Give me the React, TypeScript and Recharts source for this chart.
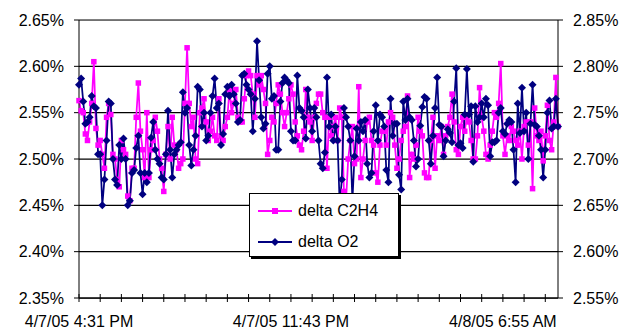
import { LineChart, Line, XAxis, YAxis, CartesianGrid, ReferenceLine, Legend } from 'recharts'

// delta C2H4, left axis (%)
const c2h4 = [
  2.563, 2.552, 2.550, 2.527, 2.520, 2.540, 2.560, 2.605, 2.533, 2.515,
  2.520, 2.505, 2.490, 2.545, 2.560, 2.548, 2.505, 2.500, 2.478, 2.470,
  2.520, 2.510, 2.505, 2.460, 2.455, 2.490, 2.490, 2.545, 2.582, 2.530,
  2.510, 2.480, 2.550, 2.480, 2.510, 2.520, 2.545, 2.530, 2.500, 2.490,
  2.465, 2.505, 2.535, 2.500, 2.545, 2.515, 2.510, 2.490, 2.495, 2.500,
  2.560, 2.620, 2.560, 2.535, 2.545, 2.500, 2.495, 2.550, 2.555, 2.565,
  2.540, 2.520, 2.530, 2.545, 2.525, 2.520, 2.565, 2.525, 2.520, 2.535,
  2.545, 2.575, 2.550, 2.560, 2.575, 2.545, 2.540, 2.540, 2.565, 2.590,
  2.595, 2.590, 2.570, 2.545, 2.590, 2.580, 2.590, 2.575, 2.560, 2.505,
  2.520, 2.545, 2.540, 2.560, 2.580, 2.570, 2.550, 2.535, 2.550, 2.565,
  2.580, 2.570, 2.540, 2.525, 2.515, 2.510, 2.530, 2.575, 2.545, 2.540,
  2.520, 2.545, 2.560, 2.570, 2.570, 2.550, 2.545, 2.490, 2.545, 2.525,
  2.535, 2.545, 2.520, 2.555, 2.545, 2.465, 2.455, 2.500, 2.520, 2.535,
  2.495, 2.500, 2.578, 2.480, 2.500, 2.520, 2.540, 2.545, 2.520, 2.515,
  2.485, 2.475, 2.515, 2.530, 2.530, 2.515, 2.540, 2.550, 2.545, 2.515,
  2.490, 2.500, 2.520, 2.530, 2.535, 2.568, 2.480, 2.505, 2.500, 2.515,
  2.545, 2.530, 2.525, 2.485, 2.480, 2.480, 2.520, 2.545, 2.490, 2.525,
  2.520, 2.535, 2.505, 2.525, 2.535, 2.545, 2.570, 2.540, 2.510, 2.505,
  2.535, 2.545, 2.530, 2.545, 2.540, 2.520, 2.500, 2.500, 2.525, 2.577,
  2.545, 2.530, 2.505, 2.500, 2.515, 2.530, 2.550, 2.545, 2.560, 2.603,
  2.525, 2.505, 2.525, 2.520, 2.535, 2.530, 2.520, 2.515, 2.530, 2.500,
  2.535, 2.540, 2.515, 2.540, 2.468, 2.555, 2.525, 2.520, 2.530, 2.498,
  2.525, 2.558, 2.520, 2.510, 2.540, 2.588, 2.535,
]

// delta O2, right axis (%)
const o2 = [
  2.780, 2.787, 2.762, 2.738, 2.740, 2.745, 2.768, 2.757, 2.755, 2.705,
  2.705, 2.650, 2.678, 2.720, 2.762, 2.760, 2.700, 2.678, 2.672, 2.715,
  2.700, 2.722, 2.700, 2.650, 2.655, 2.685, 2.688, 2.712, 2.725, 2.685,
  2.662, 2.685, 2.675, 2.685, 2.723, 2.740, 2.710, 2.700, 2.695, 2.680,
  2.678, 2.705, 2.752, 2.710, 2.680, 2.705, 2.710, 2.715, 2.718, 2.772,
  2.750, 2.755, 2.715, 2.693, 2.710, 2.725, 2.778, 2.775, 2.735, 2.750,
  2.720, 2.725, 2.750, 2.768, 2.787, 2.755, 2.760, 2.715, 2.727, 2.770,
  2.778, 2.768, 2.780, 2.770, 2.760, 2.740, 2.742, 2.790, 2.792, 2.780,
  2.775, 2.770, 2.730, 2.765, 2.827, 2.785, 2.745, 2.733, 2.738, 2.792,
  2.800, 2.765, 2.768, 2.710, 2.710, 2.762, 2.782, 2.788, 2.785, 2.782,
  2.730, 2.720, 2.720, 2.790, 2.755, 2.752, 2.745, 2.722, 2.775, 2.755,
  2.730, 2.755, 2.745, 2.720, 2.695, 2.690, 2.707, 2.788, 2.735, 2.748,
  2.720, 2.735, 2.720, 2.650, 2.678, 2.755, 2.745, 2.735, 2.720, 2.655,
  2.703, 2.733, 2.720, 2.740, 2.730, 2.742, 2.695, 2.680, 2.685, 2.730,
  2.758, 2.720, 2.748, 2.745, 2.735, 2.688, 2.675, 2.765, 2.725, 2.738,
  2.738, 2.683, 2.667, 2.762, 2.742, 2.765, 2.745, 2.742, 2.720, 2.692,
  2.700, 2.736, 2.756, 2.767, 2.765, 2.720, 2.695, 2.725, 2.755, 2.788,
  2.737, 2.735, 2.703, 2.720, 2.732, 2.728, 2.718, 2.762, 2.798, 2.715,
  2.717, 2.712, 2.748, 2.797, 2.748, 2.757, 2.697, 2.757, 2.740, 2.745,
  2.760, 2.745, 2.765, 2.758, 2.703, 2.718, 2.718, 2.720, 2.750, 2.755,
  2.730, 2.727, 2.738, 2.742, 2.740, 2.710, 2.675, 2.760, 2.728, 2.777,
  2.730, 2.750, 2.700, 2.738, 2.780, 2.737, 2.735, 2.725, 2.710, 2.680,
  2.710, 2.750, 2.763, 2.733, 2.735, 2.765, 2.735,
]

const xLabels = ['4/7/05 4:31 PM', '4/7/05 11:43 PM', '4/8/05 6:55 AM']
const xLabelIdx = [0, 100, 200]
const leftTicks = [2.35, 2.4, 2.45, 2.5, 2.55, 2.6, 2.65]
const rightTicks = [2.55, 2.6, 2.65, 2.7, 2.75, 2.8, 2.85]

const data = c2h4.map((v, i) => ({ i, c2h4: v, o2: o2[i] }))
const xTicks = Array.from({ length: Math.floor((data.length - 1) / 10) + 1 }, (_, k) => k * 10)

const MAGENTA = '#FF00FF'
const NAVY = '#000080'
const FONT = '"Liberation Sans", Arial, sans-serif'

const pct = (v: number) => `${v.toFixed(2)}%`

function XTick(props: any) {
  const { x, y, payload } = props
  const li = xLabelIdx.indexOf(payload.value)
  return (
    <g>
      <line x1={x} x2={x} y1={y - 4} y2={y + 4} stroke="#000" />
      {li >= 0 && (
        <text x={x} y={y + 29} textAnchor="middle" fontSize={16} fill="#000" fontFamily={FONT}>
          {xLabels[li]}
        </text>
      )}
    </g>
  )
}

const squareDot = (p: any) => (
  <rect key={`s${p.index}`} x={p.cx - 2.75} y={p.cy - 2.75} width={5.5} height={5.5} fill={MAGENTA} />
)
const diamondDot = (p: any) => (
  <polygon
    key={`d${p.index}`}
    points={`${p.cx},${p.cy - 4} ${p.cx + 4},${p.cy} ${p.cx},${p.cy + 4} ${p.cx - 4},${p.cy}`}
    fill={NAVY}
  />
)

function LegendBox() {
  const rows = [
    { name: 'delta C2H4', color: MAGENTA, square: true },
    { name: 'delta O2', color: NAVY, square: false },
  ]
  return (
    <div style={{ width: 148, height: 62, border: '1px solid #000', boxShadow: '2px 2px 0 #000', background: '#fff', position: 'relative' }}>
      {rows.map((r, k) => (
        <div key={r.name} style={{ position: 'absolute', left: 0, top: k === 0 ? 6 : 37, height: 22, display: 'flex', alignItems: 'center' }}>
          <svg width={48} height={22}>
            <line x1={8} x2={42} y1={11} y2={11} stroke={r.color} strokeWidth={2} />
            {r.square ? (
              <rect x={22} y={8} width={6} height={6} fill={r.color} />
            ) : (
              <polygon points="25,7 29,11 25,15 21,11" fill={r.color} />
            )}
          </svg>
          <span style={{ fontFamily: FONT, fontSize: 16, color: '#000', whiteSpace: 'nowrap' }}>{r.name}</span>
        </div>
      ))}
    </div>
  )
}

export default function App() {
  return (
    <div style={{ width: 629, height: 329, background: '#fff' }}>
      <style>{'body{margin:0}'}</style>
      <LineChart width={629} height={329} data={data} margin={{ top: 20, right: 0, bottom: 0, left: 0 }}>
        <CartesianGrid yAxisId="left" horizontal vertical={false} stroke="#000" strokeWidth={1.25} />
        <XAxis
          dataKey="i"
          type="number"
          domain={[0, data.length - 1]}
          ticks={xTicks}
          interval={0}
          height={31}
          axisLine={{ stroke: '#000' }}
          tickLine={false}
          tickSize={0}
          tickMargin={0}
          tick={<XTick />}
        />
        <YAxis
          yAxisId="left"
          domain={[2.35, 2.65]}
          ticks={leftTicks}
          width={79}
          allowDataOverflow
          axisLine={{ stroke: '#000' }}
          tickLine={{ stroke: '#000' }}
          tickSize={5}
          tickMargin={10}
          tickFormatter={pct}
          tick={{ fill: '#000', fontSize: 16, fontFamily: FONT }}
        />
        <YAxis
          yAxisId="right"
          orientation="right"
          domain={[2.55, 2.85]}
          ticks={rightTicks}
          width={71}
          allowDataOverflow
          axisLine={{ stroke: '#000' }}
          tickLine={{ stroke: '#000' }}
          tickSize={5}
          tickMargin={10}
          tickFormatter={pct}
          tick={{ fill: '#000', fontSize: 16, fontFamily: FONT, textAnchor: 'start' }}
        />
        <ReferenceLine yAxisId="left" y={2.65} stroke="#808080" strokeWidth={1.5} />
        <Line
          yAxisId="left"
          dataKey="c2h4"
          stroke={MAGENTA}
          strokeWidth={1.75}
          dot={squareDot}
          activeDot={false}
          isAnimationActive={false}
        />
        <Line
          yAxisId="right"
          dataKey="o2"
          stroke={NAVY}
          strokeWidth={1.75}
          dot={diamondDot}
          activeDot={false}
          isAnimationActive={false}
        />
        <Legend
          layout="vertical"
          align="center"
          verticalAlign="middle"
          wrapperStyle={{ left: 249, top: 193, width: 150, height: 64 }}
          content={<LegendBox />}
        />
      </LineChart>
    </div>
  )
}
